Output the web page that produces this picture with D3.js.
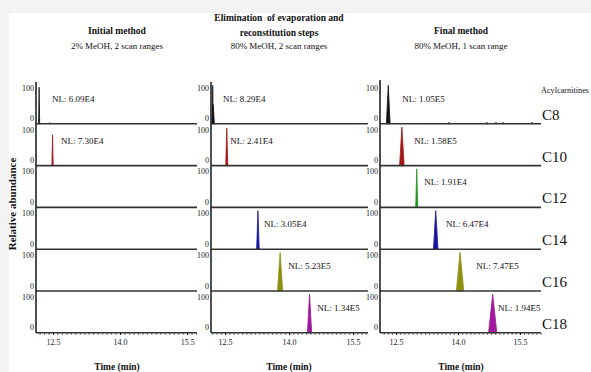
<!DOCTYPE html>
<html>
<head>
<meta charset="utf-8">
<script src="https://cdn.jsdelivr.net/npm/d3@7"></script>
<style>
  body { margin: 0; background: #f3f3f3; }
  svg { display: block; font-family: 'Liberation Serif', 'Times New Roman', serif; }
</style>
</head>
<body>
<svg id="chart"></svg>
<script>
// Panel titles
const titles = [
  { bold: ['Initial method'], plain: '2% MeOH, 2 scan ranges' },
  { bold: ['Elimination  of evaporation and', 'reconstitution steps'], plain: '80% MeOH, 2 scan ranges' },
  { bold: ['Final method'], plain: '80% MeOH, 1 scan range' }
];
const compounds = ['C8', 'C10', 'C12', 'C14', 'C16', 'C18'];
const peakColors = ['#111111', '#a01818', '#1c961c', '#16169a', '#8f8f12', '#a0189c'];
const xTicks = [12.5, 14.0, 15.5];
const yTicks = [0, 100];

// Peaks per panel: [row, apex time (min), half base width (min), height (%)]
const initialPeaks = [
  [0, 12.19, 0.012, 95], [0, 12.43, 0.01, 3],
  [1, 12.49, 0.015, 80]
];
const eliminationPeaks = [
  [0, 12.21, 0.012, 100], [0, 12.22, 0.03, 50],
  [1, 12.54, 0.025, 97],
  [3, 13.27, 0.03, 100],
  [4, 13.79, 0.06, 100],
  [5, 14.48, 0.05, 100]
];
const finalPeaks = [
  [0, 12.31, 0.045, 100],
  [0, 13.78, 0.012, 4], [0, 14.70, 0.012, 4], [0, 14.92, 0.012, 4], [0, 15.09, 0.012, 4], [0, 15.79, 0.012, 4],
  [1, 12.64, 0.055, 100],
  [2, 13.00, 0.025, 100],
  [3, 13.46, 0.055, 100],
  [4, 14.05, 0.09, 100],
  [5, 14.84, 0.1, 100]
];

// NL labels: [row, time at label start, value]
const initialNL = [[0, 12.48, '6.09E4'], [1, 12.68, '7.30E4']];
const eliminationNL = [[0, 12.45, '8.29E4'], [1, 12.62, '2.41E4'], [3, 13.41, '3.05E4'], [4, 13.98, '5.23E5'], [5, 14.66, '1.34E5']];
const finalNL = [[0, 12.65, '1.05E5'], [1, 12.94, '1.58E5'], [2, 13.18, '1.91E4'], [3, 13.71, '6.47E4'], [4, 14.44, '7.47E5'], [5, 14.97, '1.94E5']];

const panelPeaks = [initialPeaks, eliminationPeaks, finalPeaks];
const panelNL = [initialNL, eliminationNL, finalNL];
const timeDomains = [[12.12, 15.72], [12.17, 15.85], [12.11, 16.01]];

// Layout
const W = 591, H = 372;
const colLeft = [36, 211, 380];
const colRight = [197, 368, 541];
const titleCenter = [117, 279, 461];
const axisTitleCenter = [117, 289, 461];
const rowTop = 82, rowStep = 41.8, peakSpan = 38.5;
const baseline = i => rowTop + rowStep * (i + 1);

const svg = d3.select('#chart').attr('width', W).attr('height', H);

svg.append('rect').attr('x', 9).attr('y', 13).attr('width', W - 9).attr('height', H - 13).attr('fill', '#fff');

const area = d3.area().x(d => d[0]).y0(d => d[1]).y1(d => d[2]);

titles.forEach((t, c) => {
  const x = d3.scaleLinear().domain(timeDomains[c]).range([colLeft[c], colRight[c]]);
  const g = svg.append('g');

  // Titles
  const boldY = t.bold.length === 2 ? [20.5, 35.5] : [33.5];
  t.bold.forEach((line, k) => {
    g.append('text').attr('x', titleCenter[c]).attr('y', boldY[k])
      .attr('text-anchor', 'middle').style('font-size', '9.5px').style('font-weight', 'bold')
      .attr('fill', '#111').style('white-space', 'pre').text(line);
  });
  g.append('text').attr('x', titleCenter[c]).attr('y', 48.5)
    .attr('text-anchor', 'middle').style('font-size', '9px').attr('fill', '#111').text(t.plain);

  compounds.forEach((cmp, r) => {
    const b = baseline(r);
    const y = d3.scaleLinear().domain([0, 100]).range([b, b - peakSpan]);

    // Y labels (100 / 0)
    const yAxis = g.append('g')
      .attr('transform', `translate(${colLeft[c]},0)`)
      .call(d3.axisLeft(y).tickValues(yTicks).tickSize(0).tickPadding(2));
    yAxis.select('.domain').remove();
    yAxis.selectAll('text')
      .attr('dy', d => d === 0 ? '-3px' : '5px')
      .style('font-size', '8px').style('font-family', 'Liberation Serif').attr('fill', '#222');

    // Peaks
    panelPeaks[c].filter(p => p[0] === r).forEach(p => {
      const pts = [[p[1] - p[2], 0], [p[1], p[3]], [p[1] + p[2], 0]];
      g.append('path')
        .datum(pts.map(q => [x(q[0]), y(0), y(q[1])]))
        .attr('d', area)
        .attr('fill', peakColors[r])
        .attr('stroke', peakColors[r])
        .attr('stroke-width', 0.8);
    });

    // Baseline
    g.append('line')
      .attr('x1', colLeft[c]).attr('x2', colRight[c])
      .attr('y1', b).attr('y2', b)
      .attr('stroke', '#333').attr('stroke-width', 1.6);

    // NL labels
    panelNL[c].filter(n => n[0] === r).forEach(n => {
      g.append('text').attr('x', x(n[1])).attr('y', b - 22)
        .style('font-size', '9px').attr('fill', '#111').text('NL: ' + n[2]);
    });

    // Compound labels on the right
    if (c === 2) {
      g.append('text').attr('x', 542).attr('y', b - 4)
        .style('font-size', '15px').attr('fill', '#111').text(cmp);
    }
  });

  // Y axis line
  g.append('line')
    .attr('x1', colLeft[c]).attr('x2', colLeft[c])
    .attr('y1', c === 2 ? 80 : 82).attr('y2', baseline(5))
    .attr('stroke', '#222').attr('stroke-width', 1.6);

  // X axis with minor ticks
  const bottom = baseline(5);
  const minor = g.append('g').attr('transform', `translate(0,${bottom})`)
    .call(d3.axisBottom(x).ticks(36).tickSize(2).tickFormat(''));
  minor.select('.domain').remove();
  minor.selectAll('line').attr('stroke', '#555');

  const xAxis = g.append('g').attr('transform', `translate(0,${bottom})`)
    .call(d3.axisBottom(x).tickValues(xTicks).tickSize(2).tickPadding(5).tickFormat(d3.format('.1f')));
  xAxis.select('.domain').remove();
  xAxis.selectAll('text').style('font-size', '8px').style('font-family', 'Liberation Serif').attr('fill', '#222');

  g.append('text').attr('x', axisTitleCenter[c]).attr('y', 370)
    .attr('text-anchor', 'middle').style('font-size', '9.5px').style('font-weight', 'bold')
    .attr('fill', '#111').text('Time (min)');
});

svg.append('text').attr('x', 541).attr('y', 93)
  .attr('textLength', 48).attr('lengthAdjust', 'spacingAndGlyphs')
  .style('font-size', '8.5px').attr('fill', '#111').text('Acylcarnitines');

svg.append('text')
  .attr('transform', 'translate(16,204) rotate(-90)')
  .attr('text-anchor', 'middle').style('font-size', '11px').style('font-weight', 'bold')
  .attr('fill', '#111').text('Relative abundance');
</script>
</body>
</html>
